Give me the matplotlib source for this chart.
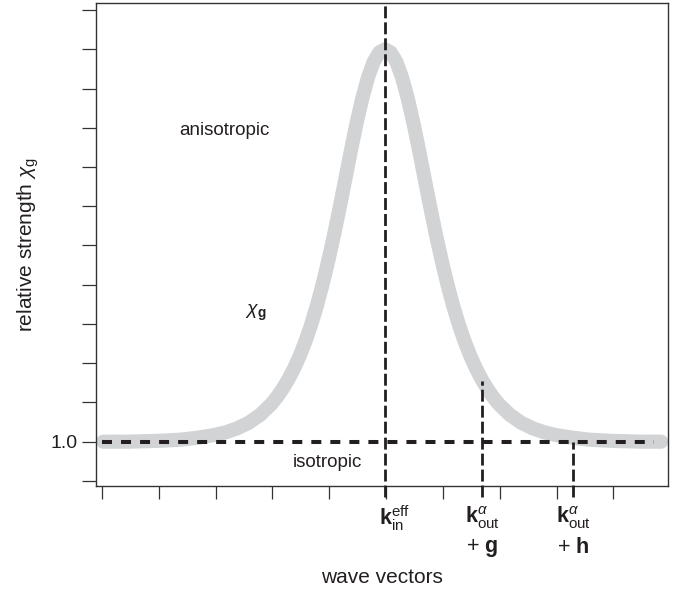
import numpy as np
import matplotlib.pyplot as plt

# fonts: helvetica-like text, same family for the math bits
plt.rcParams['font.family'] = ['Liberation Sans', 'DejaVu Sans']
plt.rcParams['mathtext.fontset'] = 'custom'
plt.rcParams['mathtext.rm'] = 'Liberation Sans'
plt.rcParams['mathtext.it'] = 'Liberation Sans:italic'
plt.rcParams['mathtext.bf'] = 'Liberation Sans:bold'
plt.rcParams['lines.scale_dashes'] = False

# chi_g curve (x in tick units, y in tick units)
curve_x = [0.02, 0.48, 0.98, 1.38, 1.68, 1.98, 2.18, 2.38, 2.58, 2.78, 2.98,
           3.08, 3.18, 3.28, 3.38, 3.48, 3.58, 3.68, 3.78, 3.88, 3.98,
           4.08, 4.18, 4.28, 4.38, 4.48, 4.58, 4.68, 4.78, 4.88, 4.98,
           5.08, 5.18, 5.28, 5.38, 5.48, 5.58, 5.68, 5.78, 5.88, 5.98,
           6.08, 6.18, 6.28, 6.38, 6.48, 6.58, 6.68, 6.78, 6.88, 6.98,
           7.18, 7.38, 7.58, 7.78, 7.98, 8.28, 8.58, 8.98, 9.48, 9.84]
curve_chi = [1.00, 1.00, 1.02, 1.05, 1.10, 1.17, 1.24, 1.34, 1.48, 1.68, 1.96,
             2.14, 2.35, 2.59, 2.87, 3.19, 3.56, 3.98, 4.46, 5.00, 5.60,
             6.25, 6.95, 7.68, 8.42, 9.12, 9.75, 10.28, 10.68, 10.92, 11.00,
             10.92, 10.68, 10.28, 9.75, 9.12, 8.42, 7.68, 6.95, 6.25, 5.60,
             5.00, 4.46, 3.98, 3.56, 3.19, 2.87, 2.59, 2.35, 2.14, 1.96,
             1.68, 1.48, 1.34, 1.24, 1.17, 1.10, 1.05, 1.02, 1.00, 1.00]

iso_level = 1.0
iso_span = [0.0, 9.72]

# the three wave vectors: position and where the dashed marker stops
vec_x = [4.98, 6.69, 8.29]
vec_top = [12.18, 2.55, 1.0]
vec_bottom = -0.41
vec_names = [r"$\mathbf{k}_\mathrm{in}^\mathrm{eff}$",
             r"$\mathbf{k}_\mathrm{out}^{\alpha}$",
             r"$\mathbf{k}_\mathrm{out}^{\alpha}$"]
vec_extra = ["", r"+ $\mathbf{g}$", r"+ $\mathbf{h}$"]
vec_label_x = [5.15, 6.69, 8.29]

xticks = np.arange(10)
yticks = np.arange(13)
ytick_labels = ['' if v != 1 else '1.0' for v in yticks]

dark = '#231f20'
band = '#d1d3d4'

fig = plt.figure(figsize=(6.8, 5.9), dpi=100)
ax = fig.add_axes([96/680, 1 - 486/590, 572/680, 483/590])

ax.plot(curve_x, curve_chi, color=band, lw=10.2, solid_capstyle='round',
        solid_joinstyle='round', zorder=2)
ax.plot(iso_span, [iso_level, iso_level], color=dark, lw=2.9,
        dashes=[7.2, 6.5], zorder=3)
for x, top in zip(vec_x, vec_top):
    ax.plot([x, x], [vec_bottom, top], color=dark, lw=2.0, dashes=[8.6, 2.9],
            zorder=4, clip_on=False)

for lx, name, extra in zip(vec_label_x, vec_names, vec_extra):
    ax.text(lx, -0.94, name, ha='center', va='center', fontsize=15.5, color=dark)
    if extra:
        ax.text(lx, -1.71, extra, ha='center', va='center', fontsize=15.5, color=dark)

ax.text(2.16, 8.92, 'anisotropic', ha='center', va='center', fontsize=13.5, color=dark)
ax.text(2.71, 4.28, r"$\chi_\mathbf{g}$", ha='center', va='center', fontsize=14, color=dark)
ax.text(3.96, 0.46, 'isotropic', ha='center', va='center', fontsize=13.5, color=dark)

ax.set_xlim(-0.106, 9.96)
ax.set_ylim(-0.13, 12.18)
ax.set_xticks(xticks)
ax.set_xticklabels([])
ax.set_yticks(yticks)
ax.set_yticklabels(ytick_labels)
ax.tick_params(axis='x', direction='out', length=9.5, width=0.9, color='#333333')
ax.tick_params(axis='y', direction='out', length=10, width=0.9, color='#333333',
               labelsize=14, labelcolor=dark, pad=3)
for s in ax.spines.values():
    s.set_linewidth(1.0)
    s.set_color('#333333')

ax.set_xlabel('wave vectors', fontsize=15, color=dark, va='center')
ax.xaxis.set_label_coords(0.5, -0.19)
ax.set_ylabel(r"relative strength $\chi_\mathrm{g}$", fontsize=15, color=dark, va='center')
ax.yaxis.set_label_coords(-0.119, 0.5)

fig.savefig('out.png', dpi=100)
